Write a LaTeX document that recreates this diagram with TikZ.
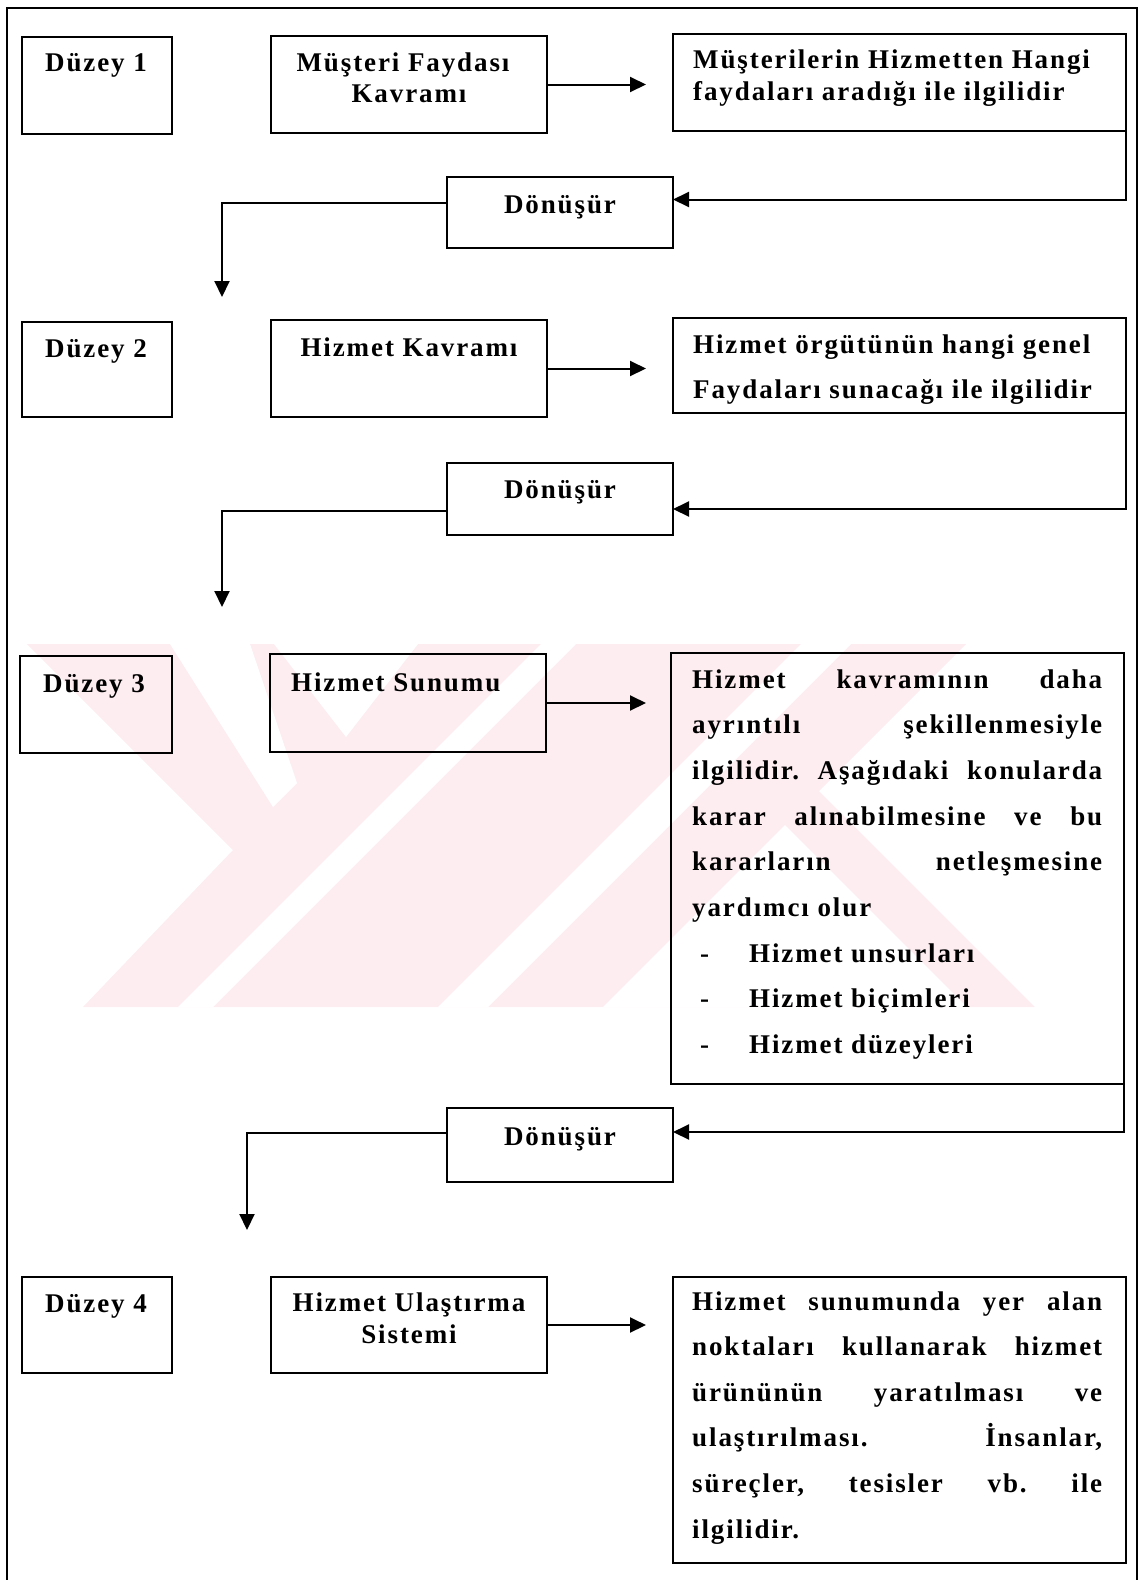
\documentclass[tikz,border=0pt]{standalone}
\usepackage{fontspec}
\setmainfont{Liberation Serif}[LetterSpace=7]
\usetikzlibrary{arrows.meta,fit,calc}
\definecolor{markpink}{RGB}{253,236,240}
\frenchspacing
\begin{document}
\begin{tikzpicture}[x=1pt,y=-1pt,
  box/.style={draw,line width=2.2pt,inner sep=0pt,outer sep=0pt},
  lbl/.style={font=\bfseries\fontsize{27}{27}\selectfont,inner sep=0pt},
  conn/.style={line width=2pt,-{Triangle[length=16pt,width=15pt]}},
  jline/.style={lbl,anchor=base west},
]
\useasboundingbox (0,0) rectangle (1140,1580);

% faint background emblem
\fill[markpink] (27,644) -- (966,644) -- (819,791) -- (1035,1007) -- (83,1007) -- (233,850) -- cycle;
\fill[white] (170,644) -- (250,644) -- (297,783) -- (273,807) -- cycle;
\fill[white] (274,644) -- (418,644) -- (346,737) -- cycle;
\fill[white] (541,644) -- (576,644) -- (213,1007) -- (178,1007) -- cycle;
\fill[white] (801,644) -- (851,644) -- (488,1007) -- (438,1007) -- cycle;
\fill[white] (785,825) -- (967,1007) -- (603,1007) -- cycle;

% outer frame
\draw[line width=2pt] (7,1580) -- (7,8) -- (1137,8) -- (1137,1580);

% level 1
\node[box,fit={(22,37)(172,134)}] (d1) {};
\node[box,fit={(271,36)(547,133)}] (m1) {};
\node[box,fit={(673,34)(1126,131)}] (r1) {};
\node[box,fit={(447,177)(673,248)}] (dn1) {};
\node[lbl,anchor=base] (d1t) at (96,71) {Düzey 1};
\node[lbl,anchor=base] (m1a) at (403,71) {Müşteri Faydası};
\node[lbl,anchor=base] (m1b) at (409,102) {Kavramı};
\node[jline] (r1a) at (693,68) {Müşterilerin Hizmetten Hangi};
\node[jline] (r1b) at (693,100) {faydaları aradığı ile ilgilidir};
\node[lbl,anchor=base] (dn1t) at (560,213) {Dönüşür};

% level 2
\node[box,fit={(22,322)(172,417)}] (d2) {};
\node[box,fit={(271,320)(547,417)}] (m2) {};
\node[box,fit={(673,318)(1126,413)}] (r2) {};
\node[box,fit={(447,463)(673,535)}] (dn2) {};
\node[lbl,anchor=base] (d2t) at (96,357) {Düzey 2};
\node[lbl,anchor=base] (m2t) at (409,356) {Hizmet Kavramı};
\node[jline] (r2a) at (693,353) {Hizmet örgütünün hangi genel};
\node[jline] (r2b) at (693,398) {Faydaları sunacağı ile ilgilidir};
\node[lbl,anchor=base] (dn2t) at (560,498) {Dönüşür};

% level 3
\node[box,fit={(20,656)(172,753)}] (d3) {};
\node[box,fit={(270,654)(546,752)}] (m3) {};
\node[box,fit={(671,653)(1124,1084)}] (r3) {};
\node[box,fit={(447,1108)(673,1182)}] (dn3) {};
\node[lbl,anchor=base] (d3t) at (94,692) {Düzey 3};
\node[jline] (m3t) at (291,691) {Hizmet Sunumu};
\node[jline] (r3l1) at (692,688) {\makebox[410pt][s]{Hizmet kavramının daha}};
\node[jline] (r3l2) at (692,733.7) {\makebox[410pt][s]{ayrıntılı şekillenmesiyle}};
\node[jline] (r3l3) at (692,779.4) {\makebox[410pt][s]{ilgilidir. Aşağıdaki konularda}};
\node[jline] (r3l4) at (692,825.1) {\makebox[410pt][s]{karar alınabilmesine ve bu}};
\node[jline] (r3l5) at (692,870.8) {\makebox[410pt][s]{kararların netleşmesine}};
\node[jline] (r3l6) at (692,916.5) {yardımcı olur};
\node[jline] (r3l7) at (700,962.2) {\makebox[49pt][l]{-}Hizmet unsurları};
\node[jline] (r3l8) at (700,1007.9) {\makebox[49pt][l]{-}Hizmet biçimleri};
\node[jline] (r3l9) at (700,1053.6) {\makebox[49pt][l]{-}Hizmet düzeyleri};
\node[lbl,anchor=base] (dn3t) at (560,1145) {Dönüşür};

% level 4
\node[box,fit={(22,1277)(172,1373)}] (d4) {};
\node[box,fit={(271,1277)(547,1373)}] (m4) {};
\node[box,fit={(673,1277)(1126,1563)}] (r4) {};
\node[lbl,anchor=base] (d4t) at (96,1312) {Düzey 4};
\node[lbl,anchor=base] (m4a) at (409,1311) {Hizmet Ulaştırma};
\node[lbl,anchor=base] (m4b) at (409,1343) {Sistemi};
\node[jline] (r4l1) at (692,1310) {\makebox[410pt][s]{Hizmet sunumunda yer alan}};
\node[jline] (r4l2) at (692,1355.6) {\makebox[410pt][s]{noktaları kullanarak hizmet}};
\node[jline] (r4l3) at (692,1401.2) {\makebox[410pt][s]{ürününün yaratılması ve}};
\node[jline] (r4l4) at (692,1446.8) {\makebox[410pt][s]{ulaştırılması. İnsanlar,}};
\node[jline] (r4l5) at (692,1492.4) {\makebox[410pt][s]{süreçler, tesisler vb. ile}};
\node[jline] (r4l6) at (692,1538) {ilgilidir.};

% connectors
\draw[conn,shorten >=27pt] (m1.east) -- (m1.east -| r1.west);
\draw[conn,shorten >=27pt] (m2.east) -- (m2.east -| r2.west);
\draw[conn,shorten >=25pt] (m3.east) -- (m3.east -| r3.west);
\draw[conn,shorten >=27pt] (m4.east) -- (m4.east -| r4.west);

\coordinate (t1) at (222,297);
\coordinate (t2) at (222,607);
\coordinate (t3) at (247,1230);
\draw[conn] (r1.south east) |- ([yshift=13pt]dn1.east);
\draw[conn] ([yshift=10pt]dn1.west) -| (t1);
\draw[conn] (r2.south east) |- ([yshift=-10pt]dn2.east);
\draw[conn] ([yshift=-12pt]dn2.west) -| (t2);
\draw[conn] (r3.south east) |- ([yshift=13pt]dn3.east);
\draw[conn] ([yshift=12pt]dn3.west) -| (t3);
\end{tikzpicture}
\end{document}
